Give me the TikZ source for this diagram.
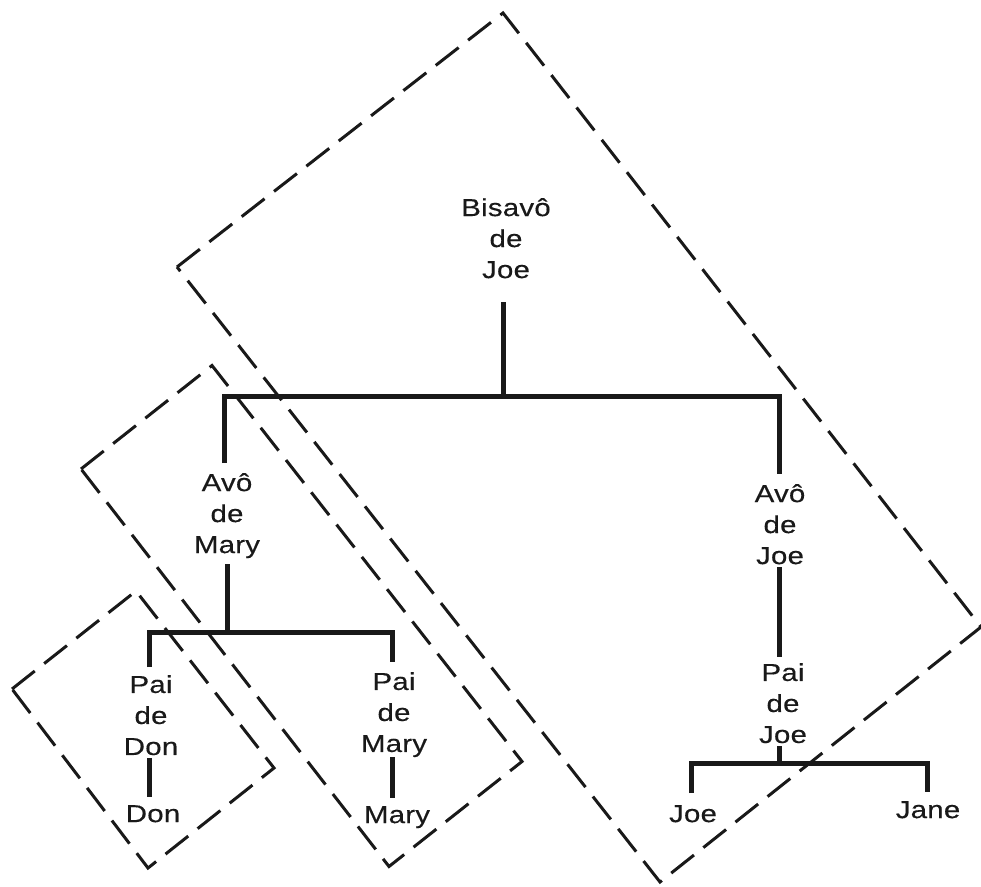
\documentclass[tikz,border=0pt]{standalone}
\usepackage{fontspec}
\newfontfamily\labelfont[FakeStretch=1.2,LetterSpace=1,FakeBold=0.4]{Liberation Sans}
\begin{document}
\begin{tikzpicture}[x=1pt,y=-1pt,
  person/.style={font=\labelfont\fontsize{24.5}{31}\selectfont, align=center,
    inner sep=0pt, text=black!90, anchor=north},
  tree/.style={line width=5pt, line join=miter, draw=black!90},
  groupbox/.style={line width=3pt, dash pattern=on 29pt off 12pt, draw=black!90}]
\useasboundingbox (0,0) rectangle (981,886);

% dashed group outlines
\draw[groupbox] (177,267) -- (503,13) -- (981,627) -- (660,882) -- cycle;
\draw[groupbox] (81,469) -- (212,365.5) -- (522,761.5) -- (389,866.5) -- cycle;
\draw[groupbox] (12,689) -- (136,591) -- (274,768) -- (148,868) -- cycle;

% people
\node[person] (bisavo)  at (506,198) {Bisavô\\de\\Joe};
\node[person] (avoM)    at (227,473) {Avô\\de\\Mary};
\node[person] (avoJ)    at (780,484) {Avô\\de\\Joe};
\node[person] (paiDon)  at (151,675) {Pai\\de\\Don};
\node[person] (paiMary) at (394,672) {Pai\\de\\Mary};
\node[person] (paiJoe)  at (783,663) {Pai\\de\\Joe};
\node[person] (don)     at (153,805) {Don};
\node[person] (mary)    at (397,806) {Mary};
\node[person] (joe)     at (693,805) {Joe};
\node[person] (jane)    at (928,801) {Jane};

% junctions on the bars
\coordinate (jTop) at (503,396);
\coordinate (jL)   at (224,396);
\coordinate (jR)   at (779,396);
\coordinate (jM)   at (227,632);
\coordinate (jD)   at (149,632);
\coordinate (jMa)  at (392,632);
\coordinate (jJ)   at (779,763);
\coordinate (jJo)  at (691,763);
\coordinate (jJa)  at (927,763);

% family lines
\draw[tree, shorten <=24pt] (bisavo.south -| jTop) -- (jTop);
\draw[tree, shorten <=10pt, shorten >=10pt] (avoM.north -| jL) -- (jL) -- (jR) -- (avoJ.north -| jR);
\draw[tree, shorten <=6pt] (avoM.south -| jM) -- (jM);
\draw[tree, shorten <=8pt, shorten >=10pt] (paiDon.north -| jD) -- (jD) -- (jMa) -- (paiMary.north -| jMa);
\draw[tree, shorten <=3pt, shorten >=8pt] (paiDon.south -| jD) -- (don.north -| jD);
\draw[tree, shorten >=8pt] (paiMary.south -| jMa) -- (mary.north -| jMa);
\draw[tree, shorten <=3pt, shorten >=6pt] (avoJ.south -| jR) -- (paiJoe.north -| jR);
\draw[tree, shorten <=3pt] (paiJoe.south -| jJ) -- (jJ);
\draw[tree, shorten <=12pt, shorten >=9pt] (joe.north -| jJo) -- (jJo) -- (jJa) -- (jane.north -| jJa);
\end{tikzpicture}
\end{document}
